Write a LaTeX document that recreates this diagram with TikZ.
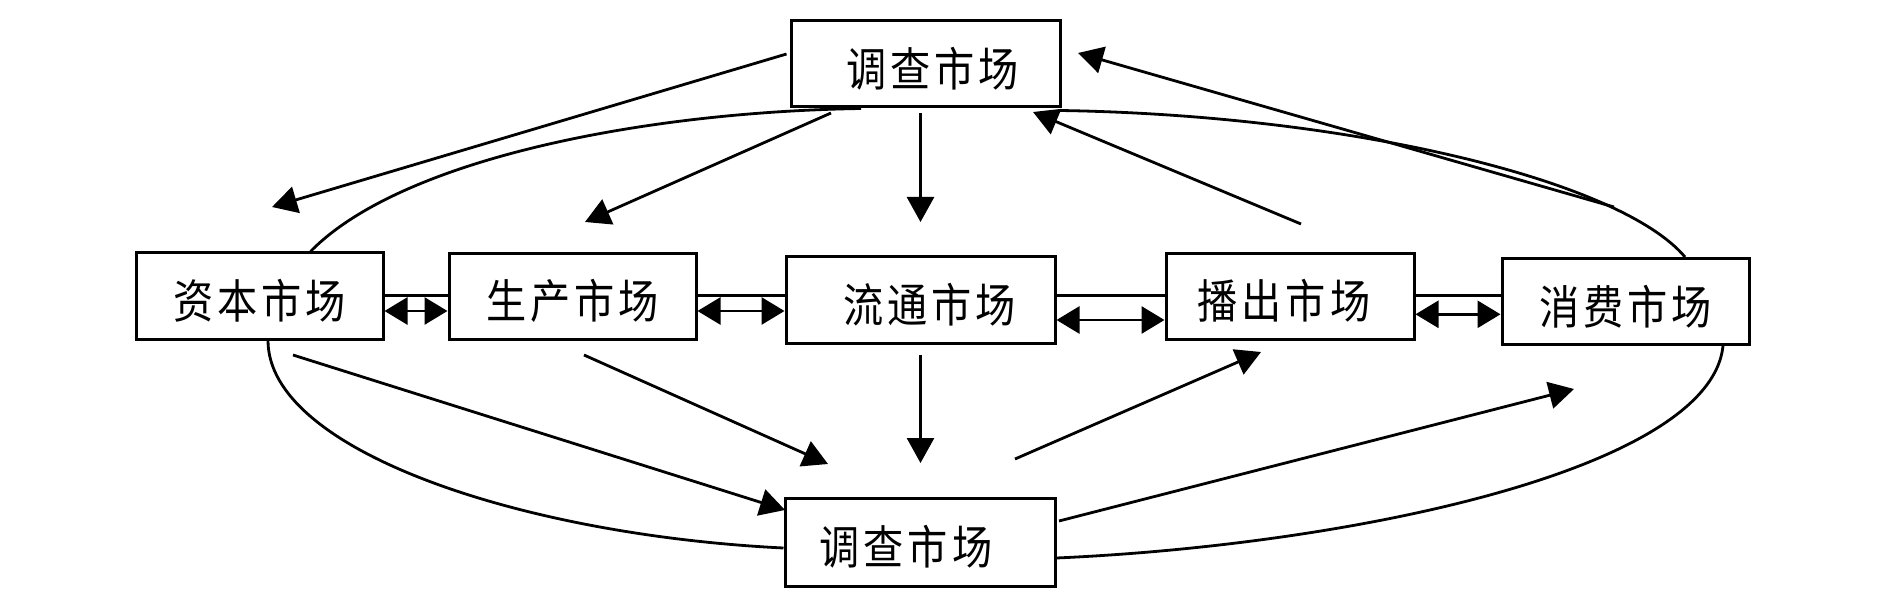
\documentclass[tikz,border=0pt]{standalone}
\usepackage{fontspec}
\newfontfamily\cjk[LetterSpace=10]{Noto Sans CJK SC}
\usetikzlibrary{arrows.meta}
\newcommand{\mktxt}[1]{\scalebox{0.98}[1.13]{#1}}
\tikzset{
  box/.style={draw, line width=3pt, minimum height=86pt, inner sep=0pt, text height=45pt, text depth=0pt, font=\cjk\fontsize{41}{44}\selectfont},
  link/.style={line width=2.8pt},
  arr/.style={line width=2.8pt, -{Triangle[length=25pt,width=27pt]}},
  darr/.style={line width=2.8pt, {Triangle[length=23pt,width=27pt]}-{Triangle[length=23pt,width=27pt]}},
}
\begin{document}
\begin{tikzpicture}[x=1pt,y=-1pt]
\useasboundingbox (0,0) rectangle (1902,609);
\node[box, minimum width=269pt] (top) at (925.5,64) {\kern14pt\mktxt{调查市场}};
\node[box, minimum width=247pt] (cap) at (259.5,296) {\mktxt{资本市场}};
\node[box, minimum width=247pt] (prod) at (572.5,296.5) {\mktxt{生产市场}};
\node[box, minimum width=269pt] (circ) at (920.5,300) {\kern18pt\mktxt{流通市场}};
\node[box, minimum width=248pt] (broad) at (1290,296.5) {\mktxt{播出市场}\kern12pt\relax};
\node[box, minimum width=247pt] (cons) at (1625.5,301.5) {\mktxt{消费市场}};
\node[box, minimum width=270pt, minimum height=88pt] (bot) at (920,542) {\mktxt{调查市场}\kern28pt\relax};

% free ends of straight arrows
\coordinate (t1s) at (786.5,54);   \coordinate (t1e) at (272,207);
\coordinate (t2s) at (831,113);    \coordinate (t2e) at (585,222);
\coordinate (t3s) at (920.5,113);  \coordinate (t3e) at (920.5,222);
\coordinate (u1s) at (1614,207);   \coordinate (u1e) at (1078,53);
\coordinate (u2s) at (1301,224);   \coordinate (u2e) at (1033,112);
\coordinate (b1s) at (293,355);    \coordinate (b1e) at (785,510);
\coordinate (b2s) at (584,355);    \coordinate (b2e) at (828,464);
\coordinate (b3s) at (920.5,355);  \coordinate (b3e) at (920.5,463);
\coordinate (v1s) at (1015,459);   \coordinate (v1e) at (1261,352);
\coordinate (v2s) at (1059,521);   \coordinate (v2e) at (1574,389);

\draw[arr] (t1s) -- (t1e);
\draw[arr] (t2s) -- (t2e);
\draw[arr] (t3s) -- (t3e);
\draw[arr] (u1s) -- (u1e);
\draw[arr] (u2s) -- (u2e);
\draw[arr] (b1s) -- (b1e);
\draw[arr] (b2s) -- (b2e);
\draw[arr] (b3s) -- (b3e);
\draw[arr] (v1s) -- (v1e);
\draw[arr] (v2s) -- (v2e);

% curves
\draw[link] (cap.north) ++(51,0) .. controls (400,160) and (640,112) .. ([xshift=-64.5pt]top.south);
\draw[link] ([xshift=134.5pt,yshift=-2pt]top.south) .. controls (1350,115) and (1620,180) .. ([xshift=59.5pt]cons.north);
\draw[link] ([xshift=8.5pt]cap.south) .. controls (268,450) and (520,535) .. ([yshift=-6pt]bot.west);
\draw[link] ([yshift=-16pt]bot.east) .. controls (1350,545) and (1710,470) .. ([xshift=97.5pt]cons.south);

% links between markets
\draw[link] (cap.east |- 0,295.7) -- (prod.west |- 0,295.7);
\draw[darr] (cap.east |- 0,311) -- (prod.west |- 0,311);
\draw[link] (prod.east |- 0,295.7) -- (circ.west |- 0,295.7);
\draw[darr] (prod.east |- 0,311) -- (circ.west |- 0,311);
\draw[link] (circ.east |- 0,295.7) -- (broad.west |- 0,295.7);
\draw[darr] (circ.east |- 0,320) -- (broad.west |- 0,320);
\draw[link] (broad.east |- 0,295.7) -- (cons.west |- 0,295.7);
\draw[darr] (broad.east |- 0,314.3) -- (cons.west |- 0,314.3);
\end{tikzpicture}
\end{document}
